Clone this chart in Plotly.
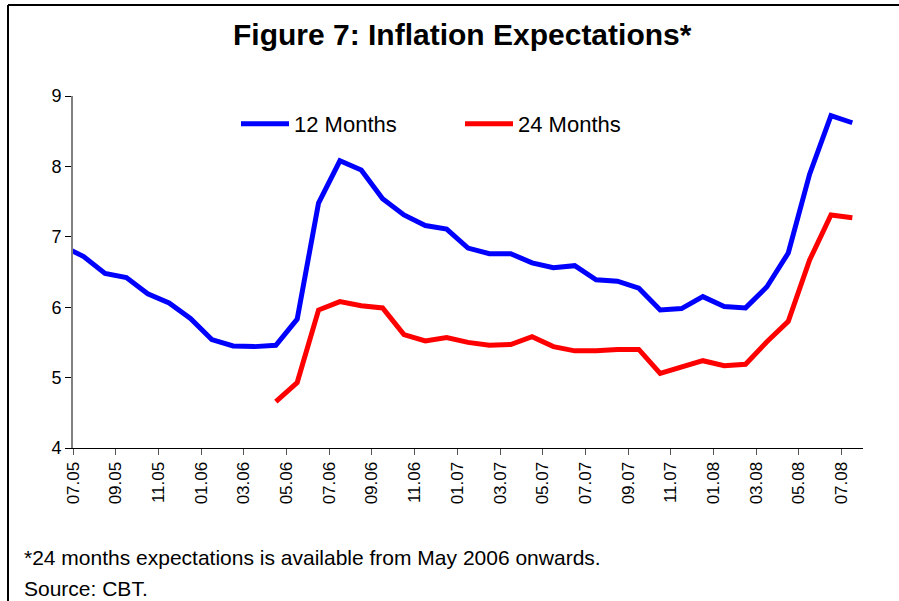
import plotly.graph_objects as go

# monthly survey, 07.05 .. 08.08
MONTHS = ["07.05", "08.05", "09.05", "10.05", "11.05", "12.05",
          "01.06", "02.06", "03.06", "04.06", "05.06", "06.06",
          "07.06", "08.06", "09.06", "10.06", "11.06", "12.06",
          "01.07", "02.07", "03.07", "04.07", "05.07", "06.07",
          "07.07", "08.07", "09.07", "10.07", "11.07", "12.07",
          "01.08", "02.08", "03.08", "04.08", "05.08", "06.08",
          "07.08", "08.08"]

EXP_12M = [6.87, 6.72, 6.48, 6.42, 6.19, 6.06,
           5.84, 5.54, 5.45, 5.44, 5.46, 5.83,
           7.48, 8.08, 7.95, 7.54, 7.31, 7.16,
           7.11, 6.84, 6.76, 6.76, 6.63, 6.56,
           6.59, 6.39, 6.37, 6.27, 5.96, 5.98,
           6.15, 6.01, 5.99, 6.29, 6.77, 7.89,
           8.72, 8.62]

# 24 months series starts in May 2006
EXP_24M = [None] * 10 + [4.66, 4.93,
           5.96, 6.08, 6.02, 5.99, 5.61, 5.52,
           5.57, 5.50, 5.46, 5.47, 5.58, 5.44,
           5.38, 5.38, 5.40, 5.40, 5.06, 5.15,
           5.24, 5.17, 5.19, 5.51, 5.80, 6.67,
           7.31, 7.27]

TICK_LABELS = MONTHS[0:37:2]

W, H = 899, 601
L, R, T, B = 73, 863, 96, 448

# each point sits half a month before its month's tick
xs = [i - 0.5 for i in range(len(MONTHS))]
tickvals = [MONTHS.index(t) for t in TICK_LABELS]

FONT = "Arial, Liberation Sans, sans-serif"

fig = go.Figure()
fig.add_trace(go.Scatter(x=xs, y=EXP_12M, mode="lines", name="12 Months",
                         line=dict(color="#0000FF", width=5)))
fig.add_trace(go.Scatter(x=xs, y=EXP_24M, mode="lines", name="24 Months",
                         line=dict(color="#FF0000", width=5)))


def px(x):
    return (x - L) / (R - L)


def py(y):
    return (B - y) / (B - T)


fig.update_layout(
    width=W, height=H,
    margin=dict(l=L, r=W - R, t=T, b=H - B),
    paper_bgcolor="white", plot_bgcolor="white",
    font=dict(family=FONT, size=17, color="black"),
    showlegend=True,
    legend=dict(orientation="h", x=px(236), y=py(103), xanchor="left", yanchor="top",
                font=dict(size=22), entrywidth=161, entrywidthmode="pixels",
                bgcolor="rgba(0,0,0,0)", itemwidth=48),
    xaxis=dict(range=[0, 37], tickmode="array", tickvals=tickvals, ticktext=TICK_LABELS,
               tickangle=-90, showgrid=False, zeroline=False,
               showline=True, linecolor="black", linewidth=1,
               ticks="outside", ticklen=6, tickcolor="#555555",
               tickfont=dict(size=17)),
    yaxis=dict(range=[4, 9], dtick=1, showgrid=False, zeroline=False,
               showline=True, linecolor="#808080", linewidth=2,
               ticks="outside", ticklen=6, tickcolor="black",
               tickfont=dict(size=18)),
    annotations=[
        dict(text="<b>Figure 7: Inflation Expectations*</b>", xref="paper", yref="paper",
             x=px(462), y=py(35), xanchor="center", yanchor="middle", showarrow=False,
             font=dict(size=30)),
        dict(text="*24 months expectations is available from May 2006 onwards.",
             xref="paper", yref="paper", x=px(22), y=py(557), xanchor="left",
             yanchor="middle", showarrow=False, font=dict(size=21)),
        dict(text="Source: CBT.", xref="paper", yref="paper", x=px(22), y=py(588),
             xanchor="left", yanchor="middle", showarrow=False, font=dict(size=21)),
    ],
    shapes=[
        dict(type="line", xref="paper", yref="paper", x0=px(8), x1=px(8),
             y0=py(5), y1=py(610), line=dict(color="black", width=2)),
        dict(type="line", xref="paper", yref="paper", x0=px(8), x1=px(910),
             y0=py(5), y1=py(5), line=dict(color="black", width=2)),
    ],
)

# drop the browser's default body margin so the figure sits at the page corner
fig.write_html("out.html", config={"displayModeBar": False},
               post_script="document.body.style.margin='0';")
